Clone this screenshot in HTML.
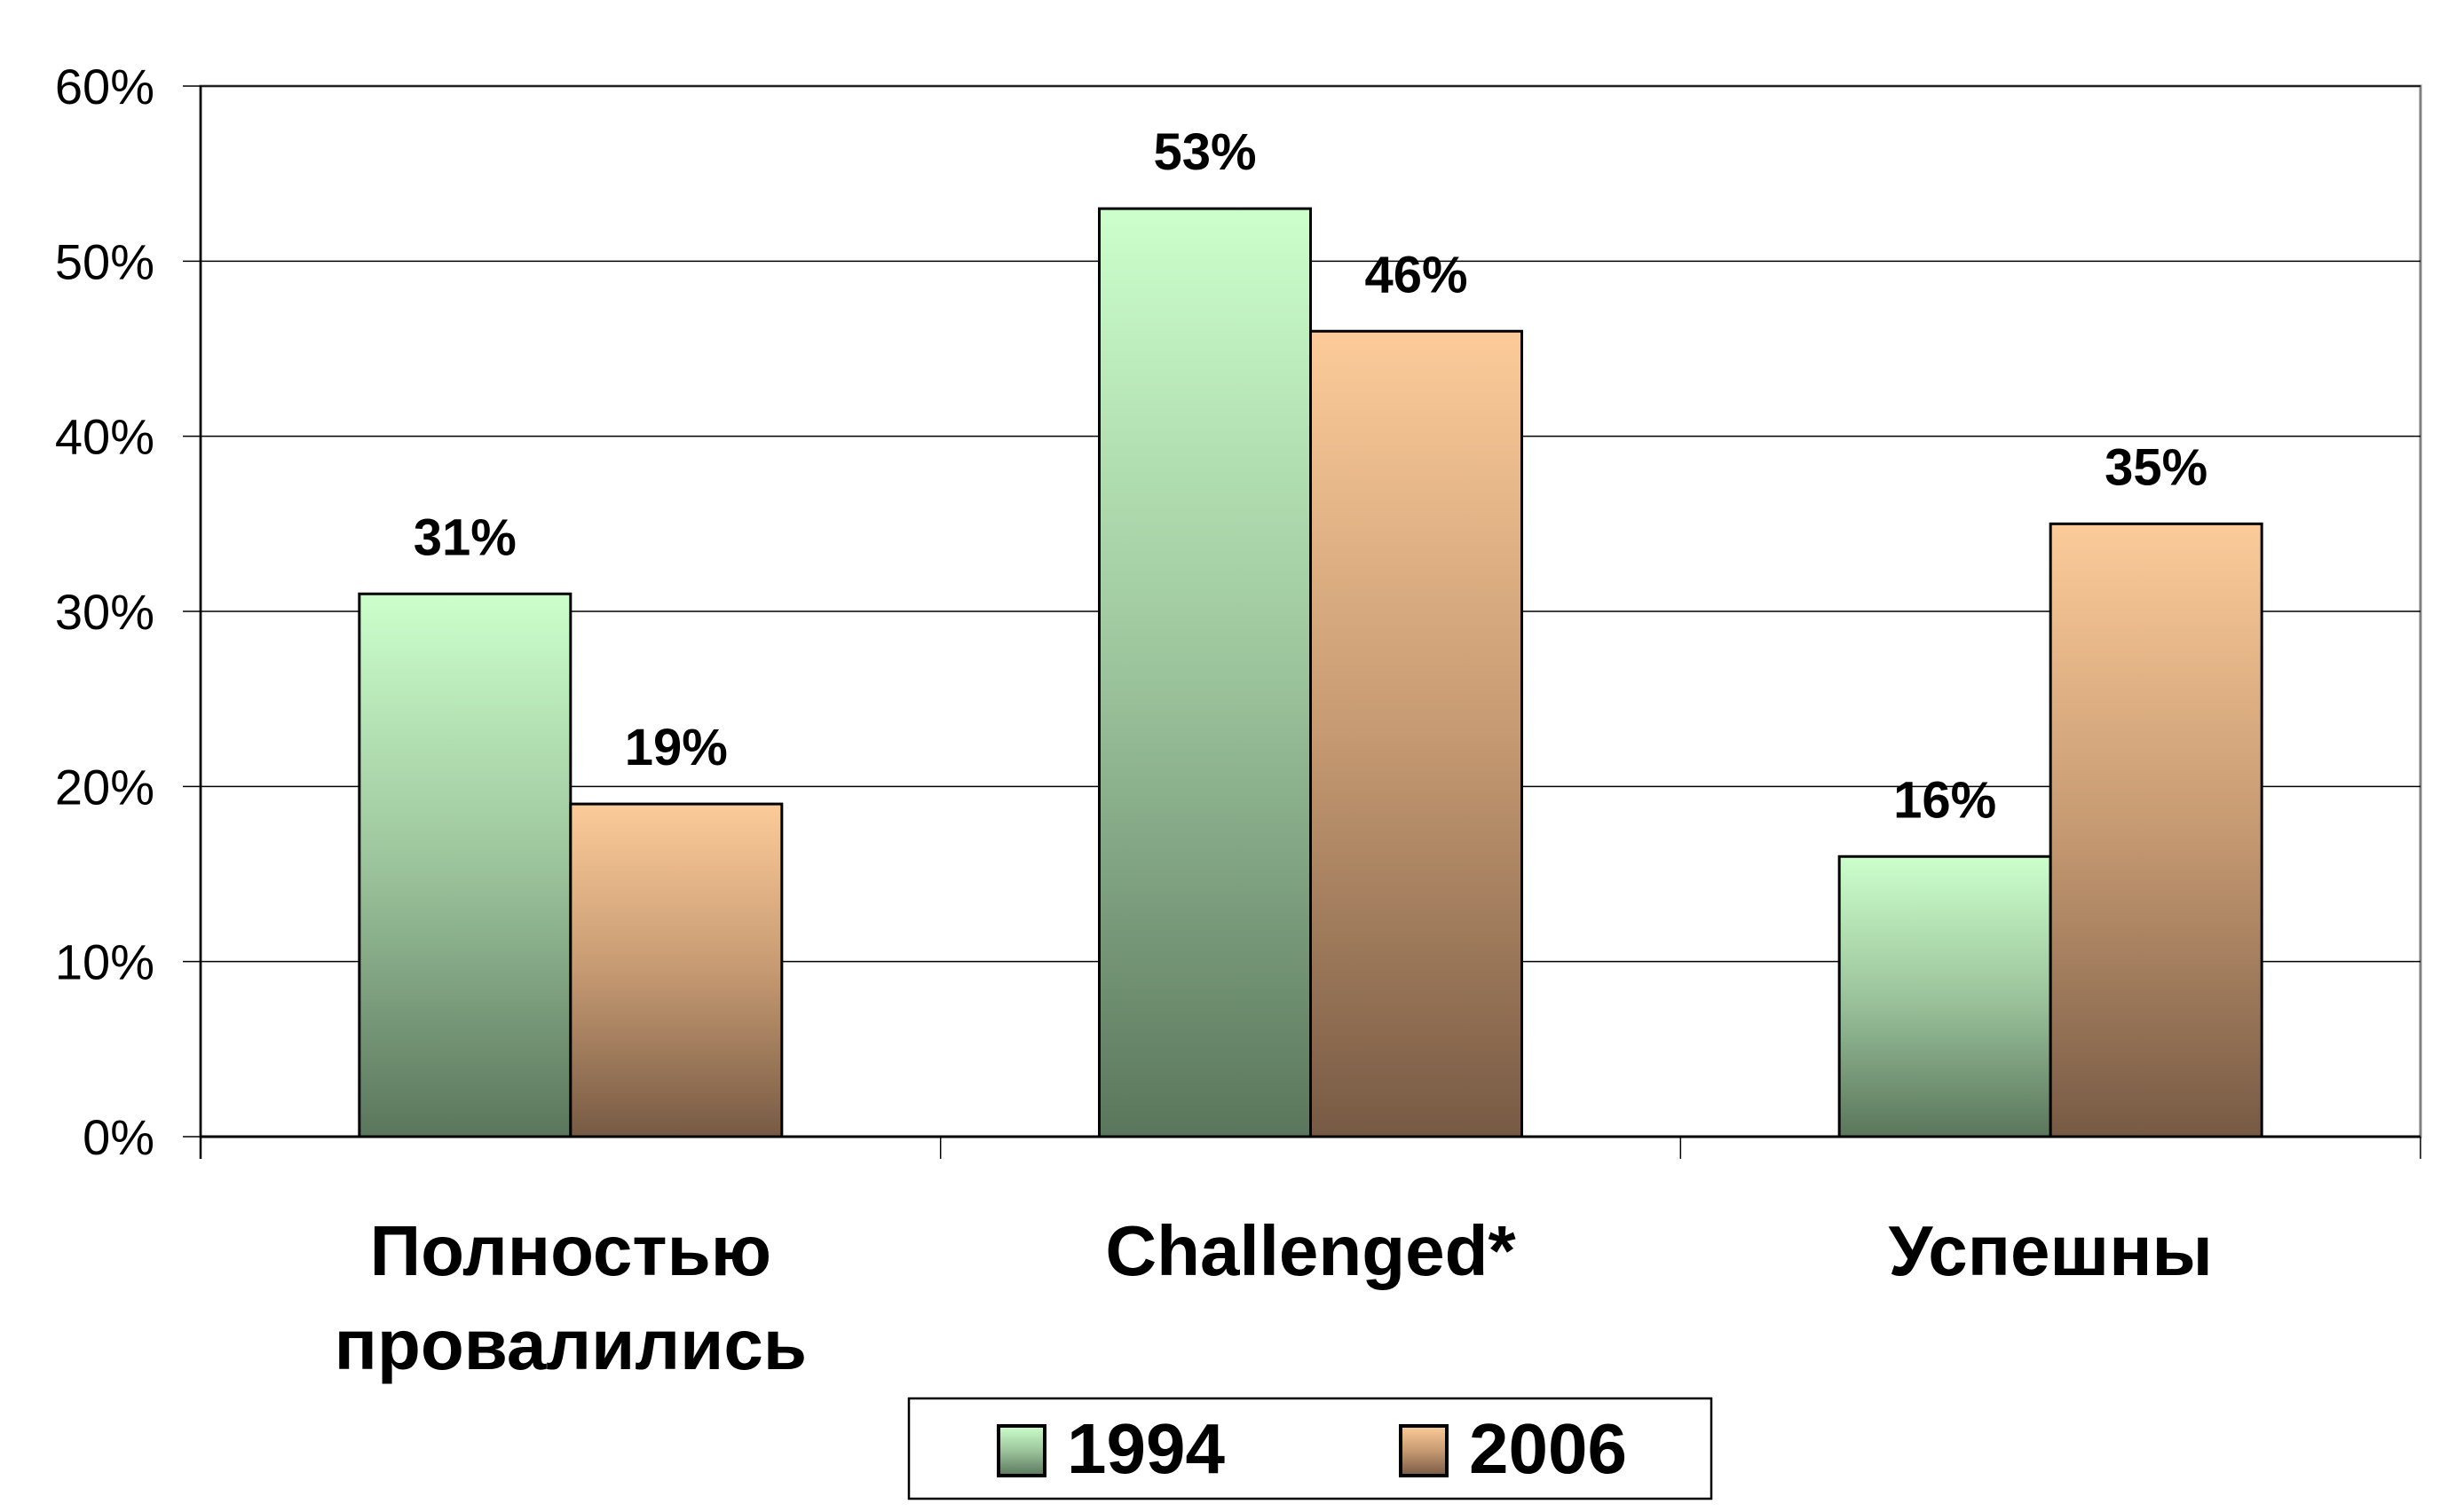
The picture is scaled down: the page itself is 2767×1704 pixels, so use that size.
<!DOCTYPE html>
<html><head><meta charset="utf-8"><style>
html,body{margin:0;padding:0;background:#fff;}
svg{display:block;}
text{font-family:"Liberation Sans",Arial,sans-serif;}
</style></head><body>
<svg id="chart" width="2767" height="1704" viewBox="0 0 2767 1704" xmlns="http://www.w3.org/2000/svg">
<defs>
<linearGradient id="gGreen" x1="0" y1="0" x2="0" y2="1"><stop offset="0" stop-color="#ccffcc"/><stop offset="0.5" stop-color="#9cc49c"/><stop offset="1" stop-color="#5a765c"/></linearGradient>
<linearGradient id="gOrange" x1="0" y1="0" x2="0" y2="1"><stop offset="0" stop-color="#fccb99"/><stop offset="0.5" stop-color="#c69a72"/><stop offset="1" stop-color="#775a44"/></linearGradient>
</defs>
<g id="grid"></g>
<g id="bars"></g>
<g id="axes"></g>
<g id="labels"></g>
<g id="legend">
<rect x="1024" y="1576" width="904" height="113" fill="#fff" stroke="#000" stroke-width="2.5"/>
<rect x="1125" y="1607" width="52" height="56" fill="url(#gGreen)" stroke="#000" stroke-width="4"/>
<text x="1202" y="1660" font-size="80" font-weight="bold">1994</text>
<rect x="1578" y="1607" width="52" height="56" fill="url(#gOrange)" stroke="#000" stroke-width="4"/>
<text x="1655" y="1660" font-size="80" font-weight="bold">2006</text>
</g>
</svg>
<script>
const categories = [["Полностью","провалились"],["Challenged*"],["Успешны"]];
const series1994 = [31, 53, 16];
const series2006 = [19, 46, 35];
const yTicks = [0, 10, 20, 30, 40, 50, 60];

const NS = "http://www.w3.org/2000/svg";
const L = 226, R = 2727, T = 97, B = 1281, YMAX = 60;
const y = v => B - (v / YMAX) * (B - T);
const catW = (R - L) / categories.length;
const barW = 238;
const x0 = i => L + catW * i + catW / 2 - barW;
function mk(tag, attrs, parent) {
  const e = document.createElementNS(NS, tag);
  for (const k in attrs) e.setAttribute(k, attrs[k]);
  parent.appendChild(e);
  return e;
}
const grid = document.getElementById('grid'), bars = document.getElementById('bars'),
      axes = document.getElementById('axes'), labels = document.getElementById('labels');
mk('rect', {x: L, y: T, width: R - L, height: B - T, fill: 'none', stroke: '#808080', 'stroke-width': 3}, grid);
yTicks.forEach(t => {
  const ln = mk('line', {x1: L - 20, x2: R, y1: y(t), y2: y(t), stroke: '#000', 'stroke-width': 1.5}, grid);
  
  
  const tx = mk('text', {x: 174, y: y(t) + 20, 'font-size': 56, 'text-anchor': 'end'}, axes);
  tx.textContent = t + '%';
  
  
});
mk('line', {x1: L, x2: L, y1: T, y2: B + 25, stroke: '#000', 'stroke-width': 2.5}, axes);
mk('line', {x1: L, x2: R, y1: B, y2: B, stroke: '#000', 'stroke-width': 3}, axes);
for (let i = 0; i <= categories.length; i++) {
  const xx = L + catW * i;
  mk('line', {x1: xx, x2: xx, y1: B, y2: B + 25, stroke: '#000', 'stroke-width': 1.5}, axes);
}
categories.forEach((c, i) => {
  const cx = L + catW * i + catW / 2;
  [[series1994, 'gGreen', '1994', 0], [series2006, 'gOrange', '2006', 1]].forEach(([s, g, nm, k]) => {
    const v = s[i];
    const bx = x0(i) + k * barW;
    const r = mk('rect', {x: bx, y: y(v), width: barW, height: B - y(v), fill: 'url(#' + g + ')', stroke: '#000', 'stroke-width': 3}, bars);
    
    
    const t = mk('text', {x: bx + barW / 2, y: y(v) - 44, 'font-size': 58, 'font-weight': 'bold', 'text-anchor': 'middle'}, labels);
    t.textContent = v + '%';
    
    
  });
  c.forEach((line, j) => {
    const t = mk('text', {x: cx, y: 1437 + j * 106, 'font-size': 80, 'font-weight': 'bold', 'text-anchor': 'middle'}, labels);
    t.textContent = line;
    
    
  });
});
</script>
</body></html>
